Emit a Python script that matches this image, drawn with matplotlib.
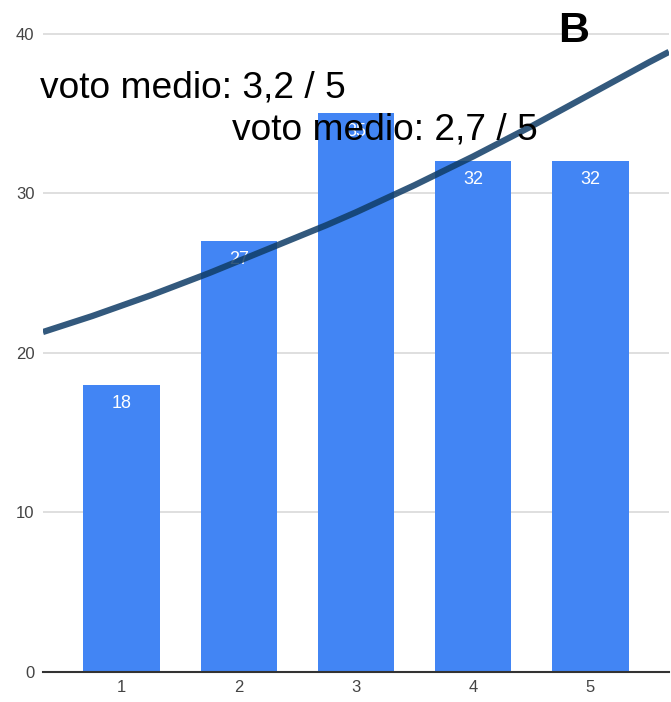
import numpy as np
import matplotlib.pyplot as plt

# bar data (rating -> count)
ratings = [1, 2, 3, 4, 5]
counts = [18, 27, 35, 32, 32]

# trend line, values
trend_x = [0.33, 0.75, 1.0, 1.25, 1.5, 1.75, 2.0, 2.25, 2.5, 2.75, 3.0,
           3.25, 3.5, 3.75, 4.0, 4.25, 4.5, 4.75, 5.0, 5.25, 5.5, 5.67]
trend_y = [21.3, 22.3, 22.95, 23.6, 24.3, 25.0, 25.75, 26.5, 27.25, 28.0, 28.8,
           29.65, 30.5, 31.4, 32.3, 33.25, 34.2, 35.2, 36.2, 37.2, 38.2, 38.85]

yticks = [0, 10, 20, 30, 40]
label_a = 'voto medio: 3,2 / 5'
label_b = 'voto medio: 2,7 / 5'

plt.rcParams['font.family'] = ['Liberation Sans', 'DejaVu Sans']

fig = plt.figure(figsize=(6.71, 7.02), dpi=100)
ax = fig.add_axes([0.064, 0.0427, 0.933, 0.9573])

ax.bar(ratings, counts, width=0.65, color='#4285f4', zorder=2)
for x, v in zip(ratings, counts):
    ax.text(x, v - 1.15, str(v), ha='center', va='center', color='white',
            fontsize=13, zorder=3)

ax.plot(trend_x, trend_y, color='#0f3c66', lw=4.5, alpha=0.85,
        solid_capstyle='butt', solid_joinstyle='round', zorder=4)

ax.set_xlim(0.33, 5.67)
ax.set_ylim(0, 42.1)
ax.set_xticks(ratings)
ax.set_yticks(yticks)
ax.tick_params(length=0, labelsize=12, labelcolor='#444444', pad=6)
ax.grid(axis='y', color='#d9d9d9', lw=1.2, zorder=0)
ax.set_axisbelow(True)
for s in ['top', 'right', 'left']:
    ax.spines[s].set_visible(False)
ax.spines['bottom'].set_color('#333333')
ax.spines['bottom'].set_linewidth(1.5)

fig.text(40 / 671, 1 - 88 / 702, label_a, fontsize=26.7, ha='left',
         va='center', zorder=10)
fig.text(232 / 671, 1 - 130 / 702, label_b, fontsize=26.7, ha='left',
         va='center', zorder=10)
fig.text(574 / 671, 1 - 31 / 702, 'B', fontsize=31, fontweight='bold',
         ha='center', va='center', zorder=10)

fig.savefig('out.png', dpi=100)
